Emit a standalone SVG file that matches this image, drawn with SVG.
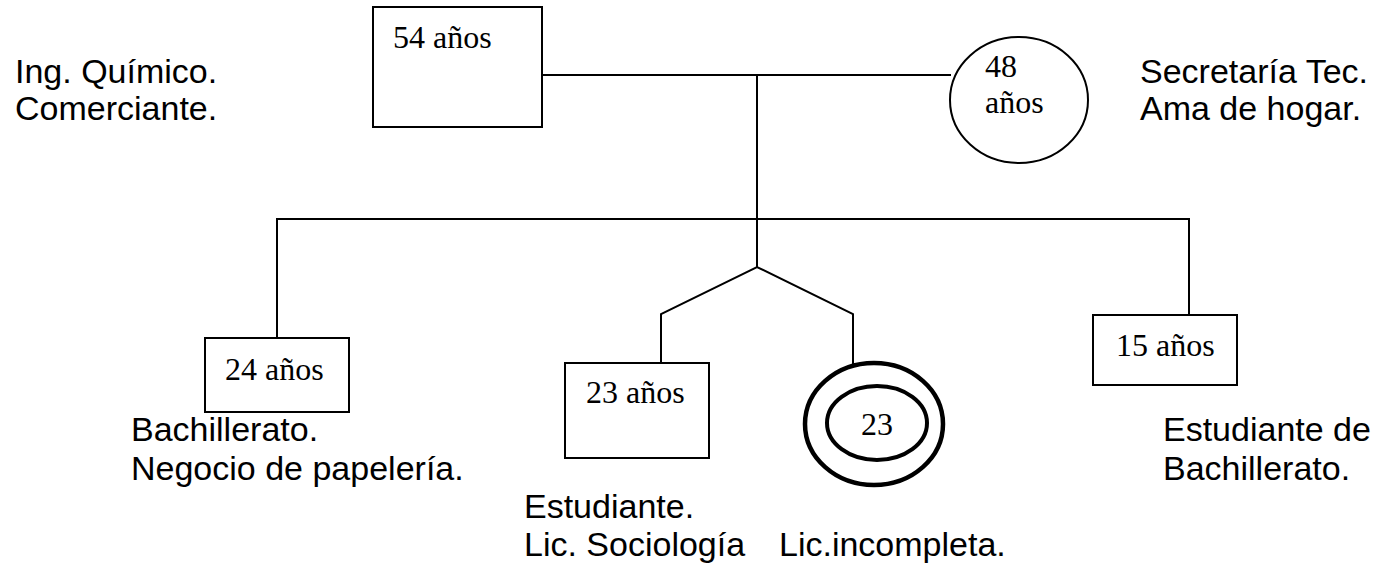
<svg xmlns="http://www.w3.org/2000/svg" width="1381" height="569" viewBox="0 0 1381 569">
<style>
.box{fill:#fff;stroke:#000;stroke-width:2}
.thick{fill:none;stroke:#000;stroke-width:4.5}
.thick2{fill:none;stroke:#000;stroke-width:4}
.ln{fill:none;stroke:#000;stroke-width:2}
.tr{font-family:"Liberation Serif","Times New Roman",serif;font-size:32px;fill:#000}
.ar{font-family:"Liberation Sans",Arial,sans-serif;font-size:34px;fill:#000}
</style>
<rect width="1381" height="569" fill="#fff"/>
<g id="connectors">
<path class="ln" d="M542,75 H951"/>
<path class="ln" d="M757,75 V267"/>
<path class="ln" d="M277,338 V219 H1189 V315"/>
<path class="ln" d="M661,363 V314 L757,267 L853,314 V366"/>
</g>
<g id="father">
<rect class="box" x="373" y="7" width="169" height="120"/>
<text class="tr" x="393" y="48">54 años</text>
</g>
<g id="mother">
<ellipse class="box" cx="1019" cy="100" rx="69" ry="63"/>
<text class="tr" x="985" y="77">48</text>
<text class="tr" x="985" y="113">años</text>
</g>
<g id="son24">
<rect class="box" x="205" y="338" width="144" height="74"/>
<text class="tr" x="225" y="380">24 años</text>
</g>
<g id="twin-son">
<rect class="box" x="565" y="363" width="144" height="95"/>
<text class="tr" x="586" y="403">23 años</text>
</g>
<g id="twin-daughter">
<ellipse class="thick" cx="874" cy="424" rx="69" ry="61"/>
<ellipse class="thick2" cx="877" cy="423" rx="50" ry="37"/>
<text class="tr" x="877" y="435" text-anchor="middle">23</text>
</g>
<g id="son15">
<rect class="box" x="1093" y="315" width="144" height="70"/>
<text class="tr" x="1116" y="356">15 años</text>
</g>
<g id="labels">
<text class="ar" x="15" y="83">Ing. Químico.</text>
<text class="ar" x="15" y="120">Comerciante.</text>
<text class="ar" x="1140" y="83">Secretaría Tec.</text>
<text class="ar" x="1140" y="120">Ama de hogar.</text>
<text class="ar" x="131" y="441">Bachillerato.</text>
<text class="ar" x="131" y="480">Negocio de papelería.</text>
<text class="ar" x="524" y="518">Estudiante.</text>
<text class="ar" x="524" y="556">Lic. Sociología</text>
<text class="ar" x="779" y="556">Lic.incompleta.</text>
<text class="ar" x="1163" y="441">Estudiante de</text>
<text class="ar" x="1163" y="480">Bachillerato.</text>
</g>
</svg>
